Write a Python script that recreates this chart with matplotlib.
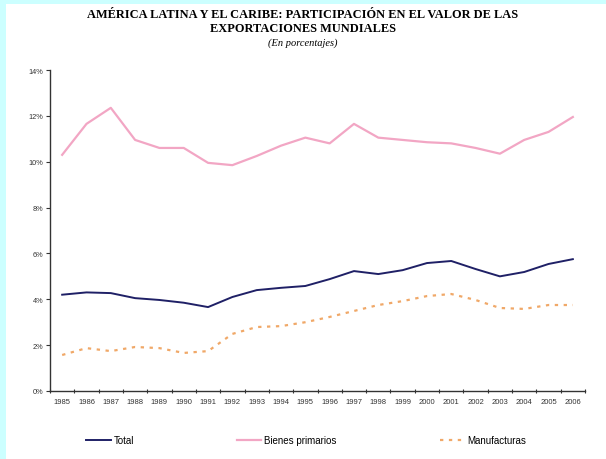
import matplotlib
matplotlib.use("Agg")
import matplotlib.pyplot as plt
import matplotlib.patches as patches
from matplotlib.ticker import FixedLocator, NullFormatter

years = [str(y) for y in range(1985, 2007)]

total = [4.20, 4.30, 4.27, 4.05, 3.97, 3.85, 3.66, 4.10, 4.40, 4.50, 4.58, 4.88,
         5.23, 5.10, 5.27, 5.58, 5.67, 5.32, 5.00, 5.19, 5.54, 5.75]
bienes_primarios = [10.30, 11.65, 12.35, 10.95, 10.60, 10.60, 9.95, 9.85, 10.25, 10.70, 11.05, 10.80,
                    11.65, 11.05, 10.95, 10.85, 10.80, 10.60, 10.35, 10.95, 11.30, 11.95]
manufacturas = [1.57, 1.87, 1.74, 1.92, 1.87, 1.66, 1.74, 2.49, 2.79, 2.83, 3.00, 3.23,
                3.49, 3.75, 3.92, 4.14, 4.23, 3.97, 3.62, 3.58, 3.75, 3.75]

series_labels = ["Total", "Bienes primarios", "Manufacturas"]
y_ticks = [0, 2, 4, 6, 8, 10, 12, 14]

W, H = 606, 460
fig = plt.figure(figsize=(W / 100, H / 100), dpi=100)
fig.patch.set_facecolor("#ccffff")
# white page area inside the cyan frame
fig.patches.append(patches.Rectangle((6 / W, 0), 1, 1 - 5 / H, transform=fig.transFigure,
                                     facecolor="white", edgecolor="none", zorder=-10))

ax = fig.add_axes([50 / W, (H - 392) / H, (585 - 50) / W, (392 - 71) / H])
ax.set_facecolor("white")

x = list(range(len(years)))
l1, = ax.plot(x, total, color="#1f2066", linewidth=1.4)
l2, = ax.plot(x, bienes_primarios, color="#f2a6c4", linewidth=1.6)
l3, = ax.plot(x, manufacturas, color="#f0a868", linewidth=1.6, linestyle=(0, (1.5, 2.5)))

ax.set_xlim(-0.5, len(years) - 0.5)
ax.set_ylim(0, 14)
ax.set_yticks(y_ticks)
ax.set_yticklabels([f"{v}%" for v in y_ticks], fontsize=5.3, family="Liberation Sans", color="#333333")

ax.set_xticks(x)
ax.set_xticklabels(years, fontsize=5.5, family="Liberation Sans", color="#333333")
ax.tick_params(axis="x", which="major", length=0, pad=5)
ax.xaxis.set_minor_locator(FixedLocator([i - 0.5 for i in range(len(years) + 1)]))
ax.xaxis.set_minor_formatter(NullFormatter())
ax.tick_params(axis="x", which="minor", length=3, width=0.8, direction="inout", color="#333333")
ax.tick_params(axis="y", length=3, width=0.8, direction="out", color="#333333", pad=2)

for s in ["top", "right"]:
    ax.spines[s].set_visible(False)
for s in ["left", "bottom"]:
    ax.spines[s].set_linewidth(1.0)
    ax.spines[s].set_color("#333333")

fig.text(0.5, 1 - 15 / H, "AMÉRICA LATINA Y EL CARIBE: PARTICIPACIÓN EN EL VALOR DE LAS",
         ha="center", va="center", fontsize=8.9, fontweight="bold", family="Liberation Serif")
fig.text(0.5, 1 - 29 / H, "EXPORTACIONES MUNDIALES",
         ha="center", va="center", fontsize=8.9, fontweight="bold", family="Liberation Serif")
fig.text(0.5, 1 - 43 / H, "(En porcentajes)",
         ha="center", va="center", fontsize=7.5, style="italic", family="Liberation Serif")

fig.legend([l1, l2, l3], series_labels, loc="center", bbox_to_anchor=(306 / W, 1 - 441 / H),
           ncol=3, frameon=False, prop={"family": "Liberation Sans", "size": 7},
           handlelength=2.5, handletextpad=0.3, columnspacing=10.6)

fig.savefig("out.png", dpi=100, facecolor=fig.get_facecolor())
